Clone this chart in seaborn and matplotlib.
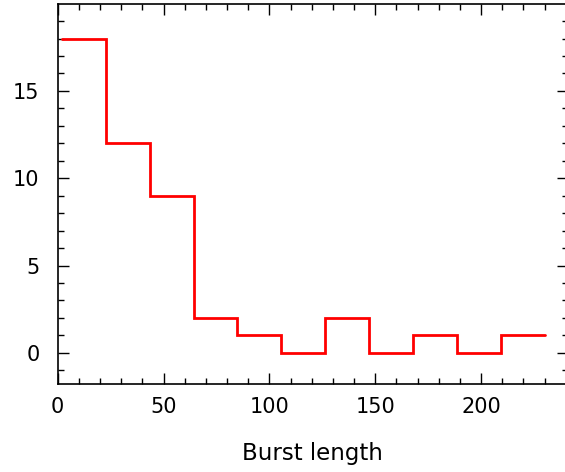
import numpy as np
import pandas as pd
import matplotlib
matplotlib.use("Agg")
import matplotlib.pyplot as plt
from matplotlib.ticker import MultipleLocator, FixedLocator
import seaborn as sns

# Burst-length histogram: 11 equal-width bins spanning 2..230
bin_lo, bin_hi, n_bins = 2, 230, 11
counts = [18, 12, 9, 2, 1, 0, 2, 0, 1, 0, 1]
x_ticks = [0, 50, 100, 150, 200]
y_ticks = [0, 5, 10, 15]

width = (bin_hi - bin_lo) / n_bins
bin_centers = bin_lo + width * (np.arange(n_bins) + 0.5)
df = pd.DataFrame({"length": bin_centers, "count": counts})

sns.set_style("ticks")
plt.rcParams["font.family"] = ["DejaVu Sans"]
plt.rcParams["text.color"] = "black"
plt.rcParams["axes.labelcolor"] = "black"
plt.rcParams["xtick.labelcolor"] = "black"
plt.rcParams["ytick.labelcolor"] = "black"

fig = plt.figure(figsize=(5.65, 4.72), dpi=100)
# right edge of the frame sits just past the canvas border
ax = fig.add_axes([57.7 / 565, (472 - 384.3) / 472, (568 - 57.7) / 565, (384.3 - 4) / 472])

sns.histplot(data=df, x="length", weights="count", binwidth=width,
             binrange=(bin_lo, bin_hi), element="step", fill=False,
             color="red", ax=ax)
for ln in ax.lines:
    ln.set_linewidth(2.0)
    ln.set_solid_joinstyle("miter")

ax.set_xlim(0, 241.1)
ax.set_ylim(-1.8, 19.98)
ax.xaxis.set_major_locator(FixedLocator(x_ticks))
ax.xaxis.set_minor_locator(MultipleLocator(10))
ax.yaxis.set_major_locator(FixedLocator(y_ticks))
ax.yaxis.set_minor_locator(MultipleLocator(1))

ax.tick_params(which="both", direction="in", top=True, right=True,
               color="black", width=1.0)
ax.tick_params(which="major", length=8)
ax.tick_params(which="minor", length=4)
ax.tick_params(axis="x", which="major", pad=9, labelsize=15)
ax.tick_params(axis="y", which="major", pad=13, labelsize=15)

for s in ax.spines.values():
    s.set_linewidth(1.2)
    s.set_color("black")

ax.set_xlabel("Burst length", fontsize=16.5, labelpad=18)
ax.set_ylabel("")

fig.savefig("out.png", dpi=100)
